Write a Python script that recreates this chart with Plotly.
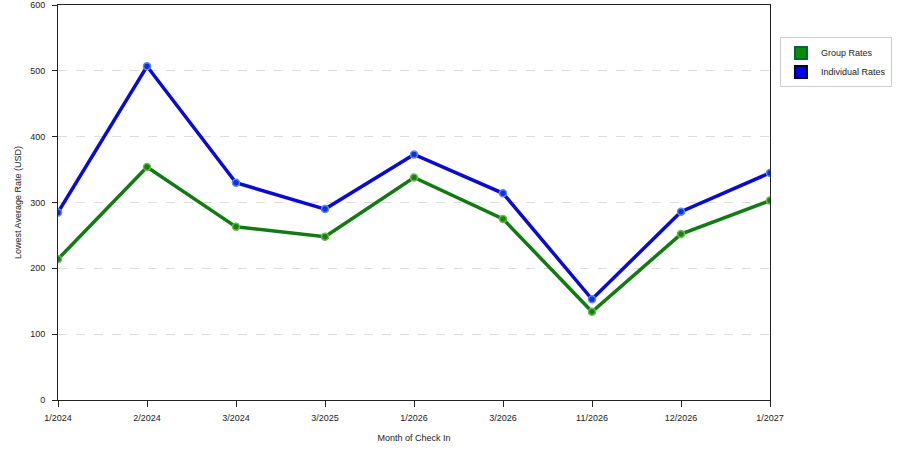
import plotly.graph_objects as go

months = ['1/2024', '2/2024', '3/2024', '3/2025', '1/2026', '3/2026', '11/2026', '12/2026', '1/2027']
group_rates = [214, 354, 263, 248, 338, 275, 134, 252, 303]
individual_rates = [285, 507, 330, 290, 373, 314, 153, 286, 345]

font = dict(family='Liberation Sans, Arial, sans-serif', size=9, color='#222222')

fig = go.Figure()

fig.add_trace(go.Scatter(x=months, y=group_rates, mode='lines+markers',
                         line=dict(color='#127a12', width=3.5),
                         marker=dict(size=7, color='#1a7f1a', line=dict(color='#6cbb4c', width=1.5)),
                         showlegend=False))
fig.add_trace(go.Scatter(x=months, y=individual_rates, mode='lines+markers',
                         line=dict(color='#0a0ad0', width=3.5),
                         marker=dict(size=7, color='#1030d8', line=dict(color='#5c8af0', width=1.5)),
                         showlegend=False))

# legend entries with square swatches
fig.add_trace(go.Scatter(x=[None], y=[None], mode='markers', name='Group Rates',
                         marker=dict(symbol='square', size=12, color='#0a8a0a', line=dict(color='#063', width=1))))
fig.add_trace(go.Scatter(x=[None], y=[None], mode='markers', name='Individual Rates',
                         marker=dict(symbol='square', size=12, color='#0000ee', line=dict(color='#003', width=1))))

fig.update_layout(
    width=900, height=450,
    margin=dict(l=58, r=130, t=5, b=50, autoexpand=False),
    paper_bgcolor='white', plot_bgcolor='white',
    font=font,
    legend=dict(x=1.014, y=0.918, xanchor='left', yanchor='top',
                bordercolor='#cccccc', borderwidth=1, bgcolor='white',
                font=dict(size=9), tracegroupgap=8, itemsizing='constant'),
    xaxis=dict(type='category', range=[0, 8], showgrid=False, automargin=False,
               showline=True, linecolor='#222222', linewidth=1, mirror=True,
               ticks='outside', ticklen=6, tickcolor='#222222', ticklabelstandoff=3,
               title=dict(text='Month of Check In', standoff=12, font=dict(size=9))),
    yaxis=dict(range=[0, 600], dtick=100, automargin=False,
               showgrid=True, gridcolor='#dddddd', griddash='dash', gridwidth=1,
               zeroline=False,
               showline=True, linecolor='#222222', linewidth=1, mirror=True,
               ticks='outside', ticklen=5, tickcolor='#222222', ticklabelstandoff=5,
               title=dict(text='Lowest Average Rate (USD)', standoff=7, font=dict(size=9))),
)

fig.write_html('out.html', config={'displayModeBar': False},
               post_script="document.body.style.margin='0';")
